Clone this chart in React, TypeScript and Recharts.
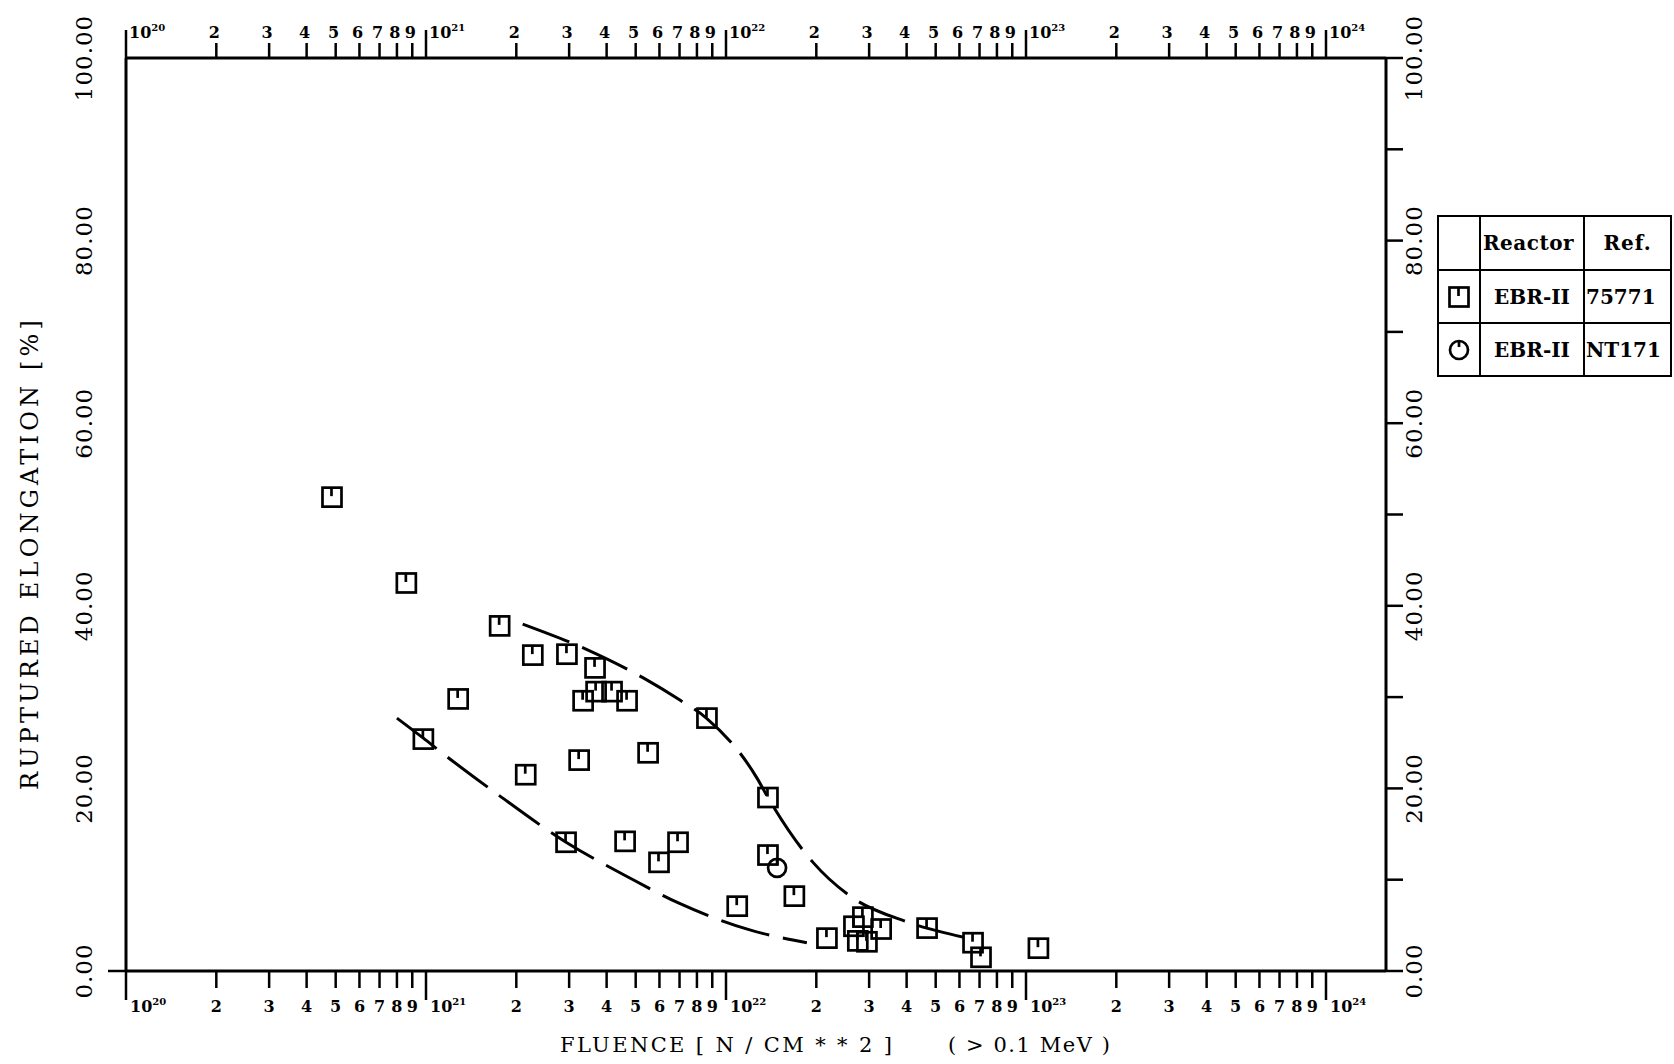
import React from "react";
import { ScatterChart, Scatter, XAxis, YAxis } from "recharts";

// plot frame, in page pixels
const PLOT = { left: 126, top: 58, right: 1386, bottom: 971 };
const SERIF = "'DejaVu Serif', 'Liberation Serif', serif";

// EBR-II, ref. 75771 (square marks)
const ebrFluence = [
  4.86e20, 8.6e20, 1.76e21, 2.27e21, 2.95e21, 3.66e21, 3.34e21, 3.69e21, 4.17e21,
  4.68e21, 1.28e21, 9.8e20, 2.15e21, 3.24e21, 5.5e21, 2.93e21, 4.61e21, 5.98e21,
  6.92e21, 8.64e21, 1.09e22, 1.38e22, 1.38e22, 1.69e22, 2.17e22, 2.67e22, 2.86e22,
  3.29e22, 2.75e22, 2.95e22, 4.68e22, 6.66e22, 7.08e22, 1.1e23,
];
const ebrElongation = [
  51.9, 42.5, 37.8, 34.6, 34.7, 33.2, 29.6, 30.6, 30.6,
  29.6, 29.8, 25.4, 21.5, 23.1, 23.9, 14.1, 14.2, 11.9,
  14.1, 27.7, 7.1, 19.0, 12.7, 8.2, 3.6, 4.9, 5.9,
  4.6, 3.3, 3.2, 4.7, 3.1, 1.5, 2.5,
];

// EBR-II, ref. NT171 (circle mark)
const ntFluence = [1.48e22];
const ntElongation = [11.3];

// dashed scatter band
const upperFluence = [2.1e21, 3.44e21, 5.3e21, 7.0e21, 8.6e21, 1.27e22, 1.38e22, 1.95e22, 2.65e22, 4.0e22, 6.2e22];
const upperElongation = [38.0, 35.2, 32.1, 29.7, 27.7, 21.1, 19.0, 11.9, 8.0, 5.4, 3.7];
const lowerFluence = [8.0e20, 9.8e20, 1.13e21, 1.74e21, 2.93e21, 4.71e21, 7.0e21, 1.2e22, 1.86e22];
const lowerElongation = [27.7, 25.5, 23.9, 19.3, 14.1, 10.3, 7.4, 4.5, 3.1];

// axes
const decadeExponents = [20, 21, 22, 23];
const mantissas = [1, 2, 3, 4, 5, 6, 7, 8, 9];
const fluenceTicks = [...decadeExponents.flatMap((e) => mantissas.map((m) => m * 10 ** e)), 1e24];
const fluenceDomain = [1e20, 10 ** 24.2];
const elongationLabelTicks = [0, 20, 40, 60, 80, 100];
const elongationTicks = [0, 10, 20, 30, 40, 50, 60, 70, 80, 90, 100];

// legend table
const legendReactors = ["EBR-II", "EBR-II"];
const legendRefs = ["75771", "NT171"];

const zip = (xs: number[], ys: number[]) => xs.map((x, i) => ({ fluence: x, elongation: ys[i] }));
const ebrData = zip(ebrFluence, ebrElongation);
const ntData = zip(ntFluence, ntElongation);
const upperData = zip(upperFluence, upperElongation);
const lowerData = zip(lowerFluence, lowerElongation);

function splitTick(v: number) {
  const exp = Math.floor(Math.log10(v) + 1e-9);
  const m = Math.round(v / 10 ** exp);
  return { exp, m };
}

const tickText = { fontFamily: SERIF, fontSize: 16, fontWeight: "bold" as const, fill: "#000" };

function BottomTick(props: any) {
  const { x, payload } = props;
  const { exp, m } = splitTick(payload.value);
  const decade = m === 1;
  return (
    <g>
      <line x1={x} x2={x} y1={PLOT.bottom} y2={PLOT.bottom + (decade ? 29 : 17)} stroke="#000" strokeWidth={2.5} />
      {decade ? (
        <text x={x + 4} y={1012} {...tickText}>
          10<tspan dy={-7} fontSize={10}>{exp}</tspan>
        </text>
      ) : (
        <text x={x} y={1012} textAnchor="middle" {...tickText}>{m}</text>
      )}
    </g>
  );
}

function TopTick(props: any) {
  const { x, payload } = props;
  const { exp, m } = splitTick(payload.value);
  const decade = m === 1;
  return (
    <g>
      <line x1={x} x2={x} y1={PLOT.top} y2={PLOT.top - (decade ? 28 : 15)} stroke="#000" strokeWidth={2.5} />
      {decade ? (
        <text x={x + 3} y={38} {...tickText}>
          10<tspan dy={-7} fontSize={10}>{exp}</tspan>
        </text>
      ) : (
        <text x={x - 2} y={38} textAnchor="middle" {...tickText}>{m}</text>
      )}
    </g>
  );
}

const valueText = { fontFamily: SERIF, fontSize: 23, fill: "#000", letterSpacing: 1 };

function LeftTick(props: any) {
  const { y, payload } = props;
  const v = payload.value;
  const cx = 84;
  return (
    <g>
      {v === 0 && <line x1={PLOT.left - 18} x2={PLOT.left} y1={y} y2={y} stroke="#000" strokeWidth={2.5} />}
      <text x={cx} y={y} transform={`rotate(-90 ${cx} ${y})`} textAnchor="middle" dominantBaseline="central" {...valueText}>
        {v.toFixed(2)}
      </text>
    </g>
  );
}

function RightTick(props: any) {
  const { y, payload } = props;
  const v = payload.value;
  const cx = 1414;
  return (
    <g>
      <line x1={PLOT.right} x2={PLOT.right + 17} y1={y} y2={y} stroke="#000" strokeWidth={2.5} />
      {v % 20 === 0 && (
        <text x={cx} y={y} transform={`rotate(-90 ${cx} ${y})`} textAnchor="middle" dominantBaseline="central" {...valueText}>
          {v.toFixed(2)}
        </text>
      )}
    </g>
  );
}

function SquareMark(props: any) {
  const { cx, cy } = props;
  if (cx == null || cy == null) return <g />;
  const s = 9.5;
  return (
    <g fill="none" stroke="#000" strokeWidth={2.7}>
      <rect x={cx - s} y={cy - s} width={2 * s} height={2 * s} />
      <line x1={cx - 0.5} x2={cx - 0.5} y1={cy - s} y2={cy - 1} />
    </g>
  );
}

function CircleMark(props: any) {
  const { cx, cy } = props;
  if (cx == null || cy == null) return <g />;
  return (
    <g fill="none" stroke="#000" strokeWidth={2.7}>
      <circle cx={cx} cy={cy} r={9} />
      <line x1={cx} x2={cx} y1={cy - 9} y2={cy - 3} />
    </g>
  );
}

const NoMark = () => <g />;

const dashed = { stroke: "#000", strokeWidth: 3, strokeDasharray: "50 14", fill: "none" };

function YTitle() {
  const cx = 30;
  const cy = 555;
  return (
    <text x={cx} y={cy} transform={`rotate(-90 ${cx} ${cy})`} textAnchor="middle" dominantBaseline="central"
      fontFamily={SERIF} fontSize={24} fill="#000" textLength={470} lengthAdjust="spacing">
      RUPTURED ELONGATION [%]
    </text>
  );
}

function XTitle() {
  return (
    <g fontFamily={SERIF} fontSize={21} fill="#000">
      <text x={560} y={1052} textLength={332} lengthAdjust="spacing">FLUENCE [ N / CM * * 2 ]</text>
      <text x={948} y={1052} textLength={162} lengthAdjust="spacing">( &gt; 0.1 MeV )</text>
    </g>
  );
}

const cell: React.CSSProperties = {
  border: "2.5px solid #000",
  padding: 0,
  fontFamily: SERIF,
  fontWeight: "bold",
  fontSize: 20,
  color: "#000",
  whiteSpace: "nowrap",
};

function LegendMark({ kind }: { kind: string }) {
  return (
    <svg width={22} height={22} style={{ display: "block", margin: "0 auto" }}>
      {kind === "square" ? <SquareMark cx={11} cy={11} /> : <CircleMark cx={11} cy={11} />}
    </svg>
  );
}

function LegendTable() {
  const marks = ["square", "circle"];
  return (
    <table style={{ position: "absolute", left: 1437, top: 215, borderCollapse: "collapse", tableLayout: "fixed", width: 233 }}>
      <colgroup>
        <col style={{ width: 42 }} />
        <col style={{ width: 104 }} />
        <col style={{ width: 87 }} />
      </colgroup>
      <tbody>
        <tr style={{ height: 54 }}>
          <td style={cell}></td>
          <td style={{ ...cell, paddingLeft: 2, letterSpacing: 0.5 }}>Reactor</td>
          <td style={{ ...cell, textAlign: "center", letterSpacing: 1 }}>Ref.</td>
        </tr>
        {legendReactors.map((r, i) => (
          <tr key={i} style={{ height: 53 }}>
            <td style={cell}><LegendMark kind={marks[i]} /></td>
            <td style={{ ...cell, textAlign: "center" }}>{r}</td>
            <td style={{ ...cell, paddingLeft: 1 }}>{legendRefs[i]}</td>
          </tr>
        ))}
      </tbody>
    </table>
  );
}

export default function App() {
  return (
    <div style={{ position: "absolute", left: 0, top: 0, width: 1674, height: 1064, background: "#fff" }}>
      <ScatterChart
        width={1674}
        height={1064}
        margin={{ top: PLOT.top - 1, left: PLOT.left - 1, right: 1674 - PLOT.right - 1, bottom: 1064 - PLOT.bottom - 1 }}
      >
        <XAxis
          xAxisId="bottom"
          dataKey="fluence"
          type="number"
          scale="log"
          domain={fluenceDomain}
          allowDataOverflow
          ticks={fluenceTicks}
          interval={0}
          height={1}
          axisLine={{ stroke: "#000", strokeWidth: 3 }}
          tickLine={false}
          tick={(p: any) => <BottomTick {...p} />}
          label={{ content: () => <XTitle /> }}
        />
        <XAxis
          xAxisId="top"
          orientation="top"
          dataKey="fluence"
          type="number"
          scale="log"
          domain={fluenceDomain}
          allowDataOverflow
          ticks={fluenceTicks}
          interval={0}
          height={1}
          axisLine={{ stroke: "#000", strokeWidth: 3 }}
          tickLine={false}
          tick={(p: any) => <TopTick {...p} />}
        />
        <YAxis
          yAxisId="left"
          dataKey="elongation"
          type="number"
          domain={[0, 100]}
          allowDataOverflow
          ticks={elongationLabelTicks}
          interval={0}
          width={1}
          axisLine={{ stroke: "#000", strokeWidth: 3 }}
          tickLine={false}
          tick={(p: any) => <LeftTick {...p} />}
          label={{ content: () => <YTitle /> }}
        />
        <YAxis
          yAxisId="right"
          orientation="right"
          dataKey="elongation"
          type="number"
          domain={[0, 100]}
          allowDataOverflow
          ticks={elongationTicks}
          interval={0}
          width={1}
          axisLine={{ stroke: "#000", strokeWidth: 3 }}
          tickLine={false}
          tick={(p: any) => <RightTick {...p} />}
        />
        <Scatter
          name="upper bound"
          data={upperData}
          xAxisId="top"
          yAxisId="right"
          line={dashed}
          lineJointType="monotoneX"
          shape={NoMark}
          isAnimationActive={false}
        />
        <Scatter
          name="lower bound"
          data={lowerData}
          xAxisId="top"
          yAxisId="right"
          line={dashed}
          lineJointType="monotoneX"
          shape={NoMark}
          isAnimationActive={false}
        />
        <Scatter
          name="EBR-II 75771"
          data={ebrData}
          xAxisId="bottom"
          yAxisId="left"
          shape={SquareMark}
          isAnimationActive={false}
        />
        <Scatter
          name="EBR-II NT171"
          data={ntData}
          xAxisId="bottom"
          yAxisId="left"
          shape={CircleMark}
          isAnimationActive={false}
        />
      </ScatterChart>
      <LegendTable />
    </div>
  );
}
